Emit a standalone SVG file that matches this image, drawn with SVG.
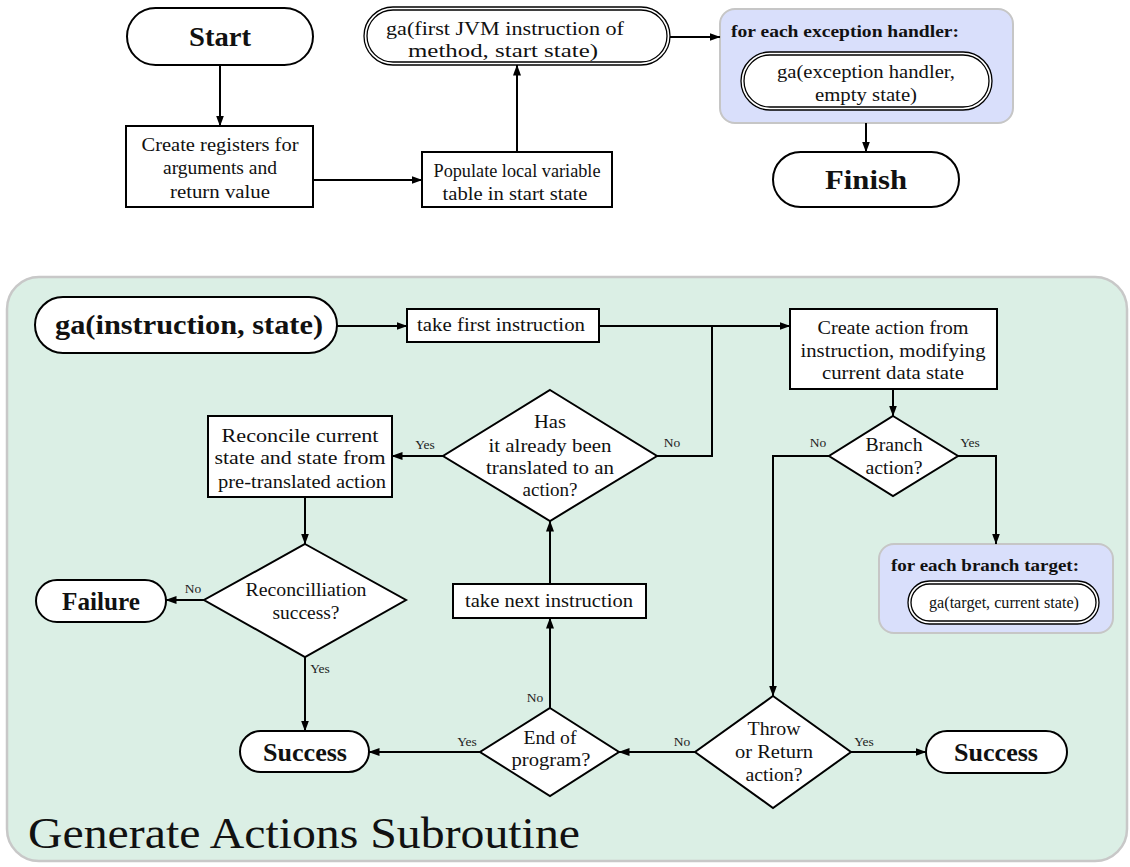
<svg xmlns="http://www.w3.org/2000/svg" width="1130" height="867" viewBox="0 0 1130 867">
  <defs>
    <marker id="arrow" markerUnits="userSpaceOnUse" markerWidth="11" markerHeight="8" refX="10.5" refY="4" orient="auto">
      <path d="M0,0 L11,4 L0,8 z" fill="#000"/>
    </marker>
    <style>
      .box{fill:#fff;stroke:#000;stroke-width:2}
      .oval{fill:#fff;stroke:#000;stroke-width:1.3}
      .group{fill:#d9dffb;stroke:#c6c6c6;stroke-width:2}
      .t{font-family:"Liberation Serif",serif;font-size:19.5px;text-anchor:middle;fill:#111}
      .s{font-size:18px}
      .sm{font-size:16.5px}
      .b{font-weight:bold}
      .big{font-size:27px}
      .mid{font-size:26px}
      .hdr{font-size:17.5px;text-anchor:start}
      .lbl{font-family:"Liberation Serif",serif;font-size:13.5px;text-anchor:middle;fill:#222}
      .title{font-family:"Liberation Serif",serif;font-size:44px;fill:#111}
      .edge{fill:none;stroke:#000;stroke-width:2}
      .arr{marker-end:url(#arrow)}
    </style>
  </defs>

  <!-- method-level flow -->
  <g id="start">
    <rect class="box" x="127" y="8" width="186" height="57" rx="28.5"/>
    <text class="t b big" x="220" y="46" textLength="62" lengthAdjust="spacingAndGlyphs">Start</text>
  </g>
  <g id="create-registers">
    <rect class="box" x="126" y="126" width="187" height="81"/>
    <text class="t" x="220" y="151" textLength="157" lengthAdjust="spacingAndGlyphs">Create registers for</text>
    <text class="t" x="220" y="174" textLength="114" lengthAdjust="spacingAndGlyphs">arguments and</text>
    <text class="t" x="220" y="198" textLength="100" lengthAdjust="spacingAndGlyphs">return value</text>
  </g>
  <g id="populate-locals">
    <rect class="box" x="422" y="152" width="190" height="55"/>
    <text class="t s" x="517" y="177" textLength="167" lengthAdjust="spacingAndGlyphs">Populate local variable</text>
    <text class="t s" x="515" y="200" textLength="145" lengthAdjust="spacingAndGlyphs">table in start state</text>
  </g>
  <g id="ga-first">
    <rect class="oval" x="364" y="7" width="306" height="58" rx="29"/>
    <rect class="oval" x="367" y="10" width="300" height="52" rx="26"/>
    <text class="t" x="505" y="35" textLength="238" lengthAdjust="spacingAndGlyphs">ga(first JVM instruction of</text>
    <text class="t" x="503" y="57" textLength="190" lengthAdjust="spacingAndGlyphs">method, start state)</text>
  </g>
  <g id="exception-handlers">
    <rect class="group" x="720" y="9" width="293" height="114" rx="15"/>
    <text class="t b hdr" x="731" y="37" textLength="228" lengthAdjust="spacingAndGlyphs">for each exception handler:</text>
    <rect class="oval" x="741" y="52" width="251" height="58" rx="29"/>
    <rect class="oval" x="744" y="55" width="245" height="52" rx="26"/>
    <text class="t" x="866" y="78" textLength="178" lengthAdjust="spacingAndGlyphs">ga(exception handler,</text>
    <text class="t" x="866" y="101" textLength="102" lengthAdjust="spacingAndGlyphs">empty state)</text>
  </g>
  <g id="finish">
    <rect class="box" x="773" y="152" width="186" height="55" rx="27.5"/>
    <text class="t b big" x="866" y="189" textLength="82" lengthAdjust="spacingAndGlyphs">Finish</text>
  </g>

  <!-- generate actions subroutine panel -->
  <g id="subroutine-panel">
    <rect x="7" y="277" width="1120" height="584" rx="32" fill="#dbefe5" stroke="#c8c8c8" stroke-width="2.5"/>
    <text class="title" x="28" y="848" textLength="552" lengthAdjust="spacingAndGlyphs">Generate Actions Subroutine</text>
  </g>

  <g id="ga-entry">
    <rect class="box" x="35" y="297" width="302" height="56" rx="28"/>
    <text class="t b big" x="189" y="334" textLength="268" lengthAdjust="spacingAndGlyphs">ga(instruction, state)</text>
  </g>
  <g id="take-first">
    <rect class="box" x="407" y="309" width="192" height="33"/>
    <text class="t" x="501" y="331" textLength="168" lengthAdjust="spacingAndGlyphs">take first instruction</text>
  </g>
  <g id="create-action">
    <rect class="box" x="790" y="309" width="207" height="80"/>
    <text class="t" x="893" y="334" textLength="151" lengthAdjust="spacingAndGlyphs">Create action from</text>
    <text class="t" x="893" y="357" textLength="185" lengthAdjust="spacingAndGlyphs">instruction, modifying</text>
    <text class="t" x="893" y="379" textLength="142" lengthAdjust="spacingAndGlyphs">current data state</text>
  </g>
  <g id="branch-action">
    <polygon class="box" points="893,416 958,456 893,496 829,456"/>
    <text class="t" x="894" y="451" textLength="57" lengthAdjust="spacingAndGlyphs">Branch</text>
    <text class="t" x="894" y="474" textLength="57" lengthAdjust="spacingAndGlyphs">action?</text>
  </g>
  <g id="already-translated">
    <polygon class="box" points="550,390 657,456 550,521 443,456"/>
    <text class="t" x="550" y="428" textLength="32" lengthAdjust="spacingAndGlyphs">Has</text>
    <text class="t" x="550" y="452" textLength="123" lengthAdjust="spacingAndGlyphs">it already been</text>
    <text class="t" x="550" y="474" textLength="128" lengthAdjust="spacingAndGlyphs">translated to an</text>
    <text class="t" x="550" y="496" textLength="55" lengthAdjust="spacingAndGlyphs">action?</text>
  </g>
  <g id="reconcile">
    <rect class="box" x="208" y="416" width="184" height="81"/>
    <text class="t" x="300" y="442" textLength="157" lengthAdjust="spacingAndGlyphs">Reconcile current</text>
    <text class="t" x="300" y="464" textLength="171" lengthAdjust="spacingAndGlyphs">state and state from</text>
    <text class="t" x="302" y="488" textLength="168" lengthAdjust="spacingAndGlyphs">pre-translated action</text>
  </g>
  <g id="reconcile-ok">
    <polygon class="box" points="305,544 406,600 305,657 204,600"/>
    <text class="t" x="306" y="596" textLength="121" lengthAdjust="spacingAndGlyphs">Reconcilliation</text>
    <text class="t" x="306" y="619" textLength="67" lengthAdjust="spacingAndGlyphs">success?</text>
  </g>
  <g id="failure">
    <rect class="box" x="36" y="580" width="130" height="42" rx="21"/>
    <text class="t b mid" x="101" y="610" textLength="78" lengthAdjust="spacingAndGlyphs">Failure</text>
  </g>
  <g id="success-left">
    <rect class="box" x="240" y="731" width="129" height="41" rx="20.5"/>
    <text class="t b mid" x="305" y="761" textLength="84" lengthAdjust="spacingAndGlyphs">Success</text>
  </g>
  <g id="take-next">
    <rect class="box" x="453" y="584" width="193" height="34"/>
    <text class="t" x="549" y="607" textLength="168" lengthAdjust="spacingAndGlyphs">take next instruction</text>
  </g>
  <g id="end-of-program">
    <polygon class="box" points="550,708 619,752 550,796 480,752"/>
    <text class="t" x="550" y="744" textLength="53" lengthAdjust="spacingAndGlyphs">End of</text>
    <text class="t" x="551" y="766" textLength="79" lengthAdjust="spacingAndGlyphs">program?</text>
  </g>
  <g id="throw-or-return">
    <polygon class="box" points="773,696 851,752 773,808 695,752"/>
    <text class="t" x="774" y="735" textLength="53" lengthAdjust="spacingAndGlyphs">Throw</text>
    <text class="t" x="774" y="758" textLength="78" lengthAdjust="spacingAndGlyphs">or Return</text>
    <text class="t" x="774" y="781" textLength="57" lengthAdjust="spacingAndGlyphs">action?</text>
  </g>
  <g id="success-right">
    <rect class="box" x="926" y="731" width="141" height="42" rx="21"/>
    <text class="t b mid" x="996" y="761" textLength="84" lengthAdjust="spacingAndGlyphs">Success</text>
  </g>
  <g id="branch-targets">
    <rect class="group" x="879" y="544" width="234" height="89" rx="15"/>
    <text class="t b hdr" x="891" y="571" textLength="188" lengthAdjust="spacingAndGlyphs">for each branch target:</text>
    <rect class="oval" x="908" y="581" width="191" height="43" rx="21.5"/>
    <rect class="oval" x="911" y="584" width="185" height="37" rx="18.5"/>
    <text class="t sm" x="1004" y="608" textLength="150" lengthAdjust="spacingAndGlyphs">ga(target, current state)</text>
  </g>

  <!-- connectors -->
  <g id="connectors">
    <path class="edge arr" d="M220,65 V126"/>
    <path class="edge arr" d="M313,180 H422"/>
    <path class="edge arr" d="M517,152 V65"/>
    <path class="edge arr" d="M670,37 H720"/>
    <path class="edge arr" d="M866,123 V152"/>

    <path class="edge arr" d="M337,326 H407"/>
    <path class="edge arr" d="M599,326 H790"/>
    <path class="edge" d="M657,456 H712 V326"/>
    <path class="edge arr" d="M893,389 V416"/>
    <path class="edge arr" d="M958,456 H996 V544"/>
    <path class="edge arr" d="M829,456 H773 V696"/>
    <path class="edge arr" d="M695,752 H619"/>
    <path class="edge arr" d="M851,752 H926"/>
    <path class="edge arr" d="M480,752 H369"/>
    <path class="edge arr" d="M550,708 V618"/>
    <path class="edge arr" d="M550,584 V521"/>
    <path class="edge arr" d="M443,456 H392"/>
    <path class="edge arr" d="M305,497 V544"/>
    <path class="edge arr" d="M204,600 H166"/>
    <path class="edge arr" d="M305,657 V731"/>

    <text class="lbl" x="425" y="449">Yes</text>
    <text class="lbl" x="672" y="447">No</text>
    <text class="lbl" x="818" y="447">No</text>
    <text class="lbl" x="970" y="447">Yes</text>
    <text class="lbl" x="193" y="593">No</text>
    <text class="lbl" x="320" y="673">Yes</text>
    <text class="lbl" x="467" y="746">Yes</text>
    <text class="lbl" x="535" y="702">No</text>
    <text class="lbl" x="682" y="746">No</text>
    <text class="lbl" x="864" y="746">Yes</text>
  </g>
</svg>
